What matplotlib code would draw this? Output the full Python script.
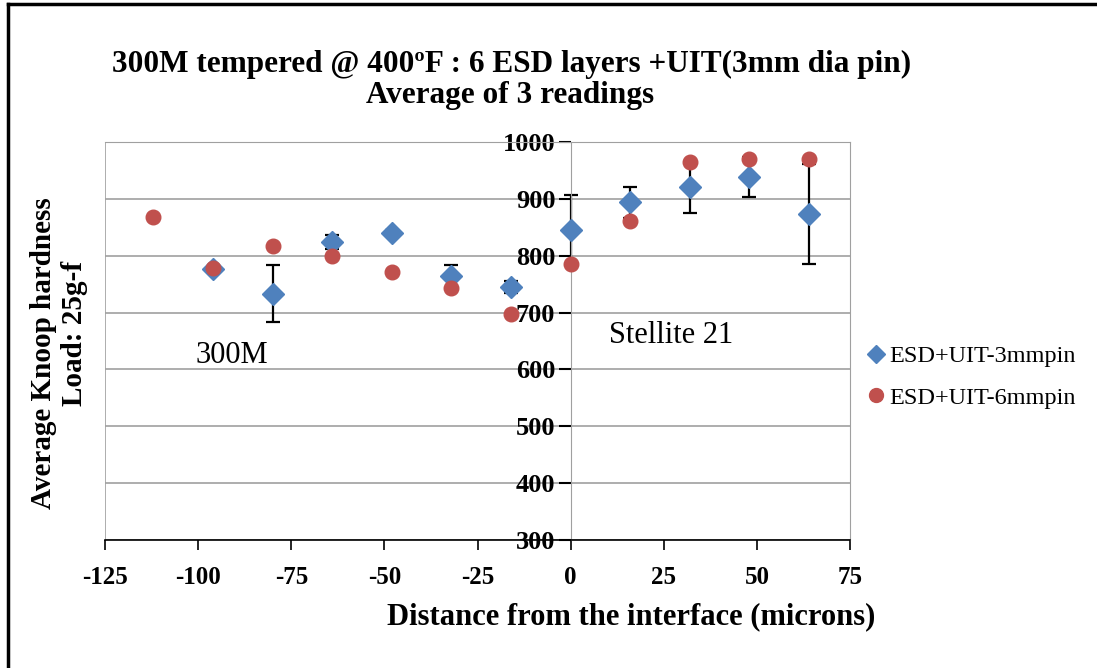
import matplotlib
matplotlib.use('Agg')
import matplotlib.pyplot as plt
from matplotlib.lines import Line2D

# Data
dist_3mm = [-96, -80, -64, -48, -32, -16, 0, 16, 32, 48, 64]
hard_3mm = [776, 733, 824, 840, 764, 745, 845, 894, 921, 938, 873]
err_3mm = [3, 50, 12, 5, 20, 10, 62, 27, 45, 35, 88]

dist_6mm = [-112, -96, -80, -64, -48, -32, -16, 0, 16, 32, 48, 64]
hard_6mm = [868, 778, 817, 800, 771, 743, 697, 785, 861, 965, 970, 970]

x_ticks = [-125, -100, -75, -50, -25, 0, 25, 50, 75]
y_ticks = [300, 400, 500, 600, 700, 800, 900, 1000]

BLUE = '#4F81BD'
RED = '#C0504D'
GRID = '#a0a0a0'
SERIF = 'Liberation Serif'

plt.rcParams['font.family'] = SERIF

fig = plt.figure(figsize=(10.97, 6.68), dpi=100)
ax = fig.add_axes([105 / 1097, 1 - 540 / 668, 745 / 1097, 398 / 668])

# Excel-like axes: y axis crosses at x=0, plot area frame in gray
# (spine must be moved before tick labels are styled, it resets the ticks)
ax.spines['left'].set_position(('data', 0))
ax.spines['left'].set_color(GRID)
ax.spines['top'].set_color(GRID)
ax.spines['right'].set_color(GRID)
ax.spines['bottom'].set_color('black')
ax.spines['bottom'].set_linewidth(1.2)
ax.axvline(-125, color=GRID, lw=1.2, zorder=1)

ax.errorbar(dist_3mm, hard_3mm, yerr=err_3mm, fmt='none', ecolor='black',
            elinewidth=1.6, capsize=5, capthick=1.6, zorder=2)
ax.plot(dist_3mm, hard_3mm, 'D', color=BLUE, markersize=11, zorder=3,
        label='ESD+UIT-3mmpin')
ax.plot(dist_6mm, hard_6mm, 'o', color=RED, markersize=10.5, zorder=3,
        label='ESD+UIT-6mmpin')

ax.set_xlim(-125, 75)
ax.set_ylim(300, 1000)
ax.set_xticks(x_ticks)
ax.set_yticks(y_ticks)
ax.set_xticklabels([str(t) for t in x_ticks], fontweight='bold', fontsize=18)
ax.set_yticklabels([str(t) for t in y_ticks], fontweight='bold', fontsize=19)

ax.yaxis.grid(True, color=GRID, lw=1.2)
ax.set_axisbelow(True)
ax.tick_params(axis='x', direction='out', length=7, width=1.2, pad=12)
ax.tick_params(axis='y', direction='out', length=9, width=1.5, pad=2)

ax.text(-91, 625, '300M', fontsize=22, ha='center', va='center')
ax.text(27, 660, 'Stellite 21', fontsize=22, ha='center', va='center')

fig.text(631 / 1097, 1 - 617 / 668, 'Distance from the interface (microns)',
         fontweight='bold', fontsize=22, ha='center', va='center')
fig.text(44 / 1097, 1 - 353 / 668, 'Average Knoop hardness',
         rotation=90, fontweight='bold', fontsize=21, ha='center',
         va='center')
fig.text(74 / 1097, 1 - 333 / 668, 'Load: 25g-f',
         rotation=90, fontweight='bold', fontsize=21, ha='center',
         va='center')

fig.text(512 / 1097, 1 - 64 / 668,
         '300M tempered @ 400\u00baF : 6 ESD layers +UIT(3mm dia pin)',
         fontweight='bold', fontsize=22.5, ha='center', va='center')
fig.text(510 / 1097, 1 - 96 / 668, 'Average of 3 readings',
         fontweight='bold', fontsize=22.5, ha='center', va='center')

handles = [Line2D([], [], marker='D', ls='none', color=BLUE, markersize=9),
           Line2D([], [], marker='o', ls='none', color=RED, markersize=10)]
fig.legend(handles, ['ESD+UIT-3mmpin', 'ESD+UIT-6mmpin'], loc='center left',
           bbox_to_anchor=(850 / 1097, 1 - 377 / 668), frameon=False,
           fontsize=17.5, handletextpad=0.0, handlelength=1.1,
           labelspacing=0.8, borderpad=0.0)

# figure border (top and left only, as in the reference)
fig.add_artist(Line2D([8 / 1097, 8 / 1097], [0, 1 - 4 / 668], color='black',
                      lw=2.5, transform=fig.transFigure))
fig.add_artist(Line2D([8 / 1097, 1], [1 - 4 / 668, 1 - 4 / 668], color='black',
                      lw=2.5, transform=fig.transFigure))

fig.savefig('out.png', dpi=100)
